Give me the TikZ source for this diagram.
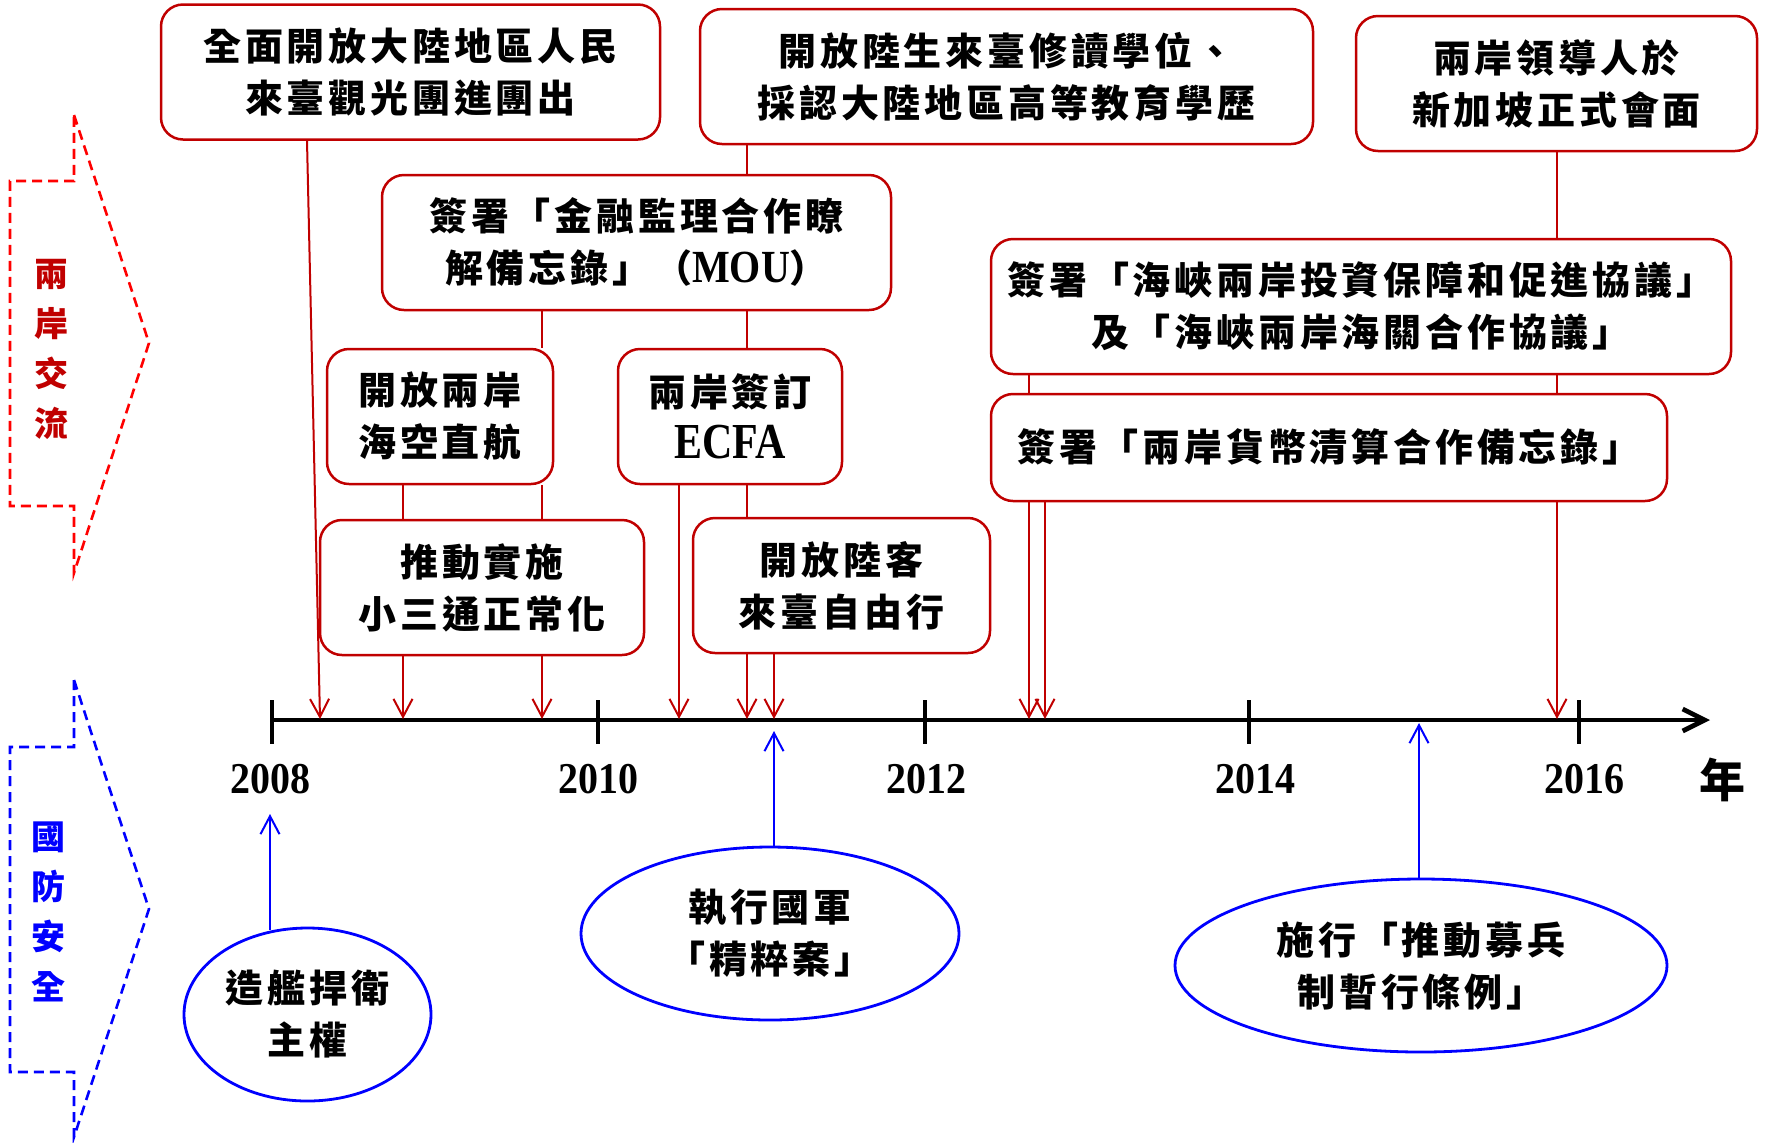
\documentclass[tikz,border=0pt]{standalone}
\usepackage{fontspec}
\setmainfont{Liberation Serif}
\newfontfamily\cjk{Noto Sans CJK TC}[LetterSpace=10]
\newfontfamily\cjkl{Noto Sans CJK TC}
\newfontfamily\latfont{Liberation Serif}
\usetikzlibrary{arrows.meta,shapes.geometric}
\definecolor{dred}{HTML}{C00000}
\definecolor{bred}{HTML}{FF0000}
\definecolor{bblue}{HTML}{0000FF}
\newcommand\lat[1]{{\latfont\bfseries\fontsize{20pt}{26pt}\selectfont #1}}
\begin{document}
\begin{tikzpicture}[x=0.5pt,y=-0.5pt,
  evbox/.style={draw=dred, line width=1.25pt, rounded corners=11pt, fill=white, align=center, inner sep=0pt,
    font=\cjk\bfseries\fontsize{19pt}{26pt}\selectfont},
  evell/.style={draw=bblue, line width=1.4pt, ellipse, align=center, inner sep=0pt,
    font=\cjk\bfseries\fontsize{19pt}{26pt}\selectfont},
  redln/.style={draw=dred, line width=1pt},
  redarr/.style={draw=dred, line width=1pt, -{Straight Barb[length=9pt,width=9.5pt]}},
  bluearr/.style={draw=bblue, line width=1pt, -{Straight Barb[length=9pt,width=9.5pt]}},
  sidearrow/.style={line width=1.3pt, dash pattern=on 5pt off 3pt, line join=miter},
  sidetxt/.style={align=center, inner sep=0pt, font=\cjkl\bfseries\fontsize{17pt}{25pt}\selectfont},
  yearlab/.style={inner sep=0pt, font=\latfont\bfseries\fontsize{20pt}{24pt}\selectfont},
  axisln/.style={draw=black, line width=2.4pt, -{Straight Barb[length=11pt,width=11pt]}},
  tickln/.style={draw=black, line width=2pt}
]
\useasboundingbox (0,0) rectangle (1766,1142);

% side arrows
\draw[bred, sidearrow] (74,115) -- (149,343) -- (74,573) -- (74,506) -- (10,506) -- (10,181) -- (74,181) -- cycle;
\node[sidetxt, text=dred] (lab1) at (51,349) {兩\\岸\\交\\流};
\draw[bblue, sidearrow] (74,680) -- (149,909) -- (74,1137) -- (74,1072) -- (10,1072) -- (10,747) -- (74,747) -- cycle;
\node[sidetxt, text=bblue] (lab2) at (49,912) {國\\防\\安\\全};

% axis
\coordinate (ax0) at (272,720);
\coordinate (ax1) at (1710,720);
\draw[axisln] (ax0) -- (ax1);
\foreach \x in {272,598,924.5,1249,1579} \draw[tickln] (\x,700) -- (\x,744);
\node[yearlab] (y2008) at (270,779) {\scalebox{1}[1.1]{2008}};
\node[yearlab] (y2010) at (598.5,779) {\scalebox{1}[1.1]{2010}};
\node[yearlab] (y2012) at (926,779) {\scalebox{1}[1.1]{2012}};
\node[yearlab] (y2014) at (1255,779) {\scalebox{1}[1.1]{2014}};
\node[yearlab] (y2016) at (1584,779) {\scalebox{1}[1.1]{2016}};
\node[inner sep=0pt, font=\cjkl\bfseries\fontsize{23pt}{26pt}\selectfont] (nian) at (1722,780) {年};

% event boxes
\node[evbox, minimum width=249.5pt, minimum height=67.5pt] (b1) at (410.5,72) {全面開放大陸地區人民\\來臺觀光團進團出};
\node[evbox, minimum width=306.5pt, minimum height=67.5pt] (b2) at (1006.5,76.5) {開放陸生來臺修讀學位、\\採認大陸地區高等教育學歷};
\node[evbox, minimum width=200.5pt, minimum height=67.5pt] (b3) at (1556.5,83.5) {兩岸領導人於\\新加坡正式會面};
\node[evbox, minimum width=254.5pt, minimum height=67.5pt] (b4) at (636.5,242.5) {簽署「金融監理合作瞭\\解備忘錄」（\lat{\scalebox{1}[1.15]{MOU}}）};
\node[evbox, minimum width=113pt, minimum height=67.5pt] (b5) at (440,416.5) {開放兩岸\\海空直航};
\node[evbox, minimum width=112pt, minimum height=67.5pt] (b6) at (730,416.5) {兩岸簽訂\\{\latfont\bfseries\fontsize{21pt}{26pt}\selectfont\scalebox{1}[1.2]{ECFA}}};
\node[evbox, minimum width=162pt, minimum height=67.5pt] (b7) at (482,587.5) {推動實施\\小三通正常化};
\node[evbox, minimum width=148.5pt, minimum height=67.5pt] (b8) at (841.5,585.5) {開放陸客\\來臺自由行};
\node[evbox, minimum width=370pt, minimum height=67.5pt] (b9) at (1361,306.5) {簽署「海峽兩岸投資保障和促進協議」\\及「海峽兩岸海關合作協議」};
\node[evbox, minimum width=338pt, minimum height=53.5pt] (b10) at (1329,447.5) {簽署「兩岸貨幣清算合作備忘錄」};

% defense ellipses
\node[evell, minimum width=123.5pt, minimum height=86.5pt] (e1) at (307.5,1014.5) {造艦捍衛\\主權};
\node[evell, minimum width=189pt, minimum height=86.5pt] (e2) at (770,933.5) {執行國軍\\「精粹案」};
\node[evell, minimum width=246pt, minimum height=86.5pt] (e3) at (1421,965.5) {施行「推動募兵\\制暫行條例」};

% axis points for events
\coordinate (x1) at (307,0);
\coordinate (ev1) at (320,719);
\coordinate (ev2) at (403,719);
\coordinate (ev3) at (542,719);
\coordinate (ev4) at (679,719);
\coordinate (ev5) at (747,719);
\coordinate (ev6) at (774,719);
\coordinate (ev7) at (1029,719);
\coordinate (ev8) at (1045,719);
\coordinate (ev9) at (1557,719);

% red connectors
\draw[redarr] (x1 |- b1.south) -- (ev1);
\draw[redln] (ev5 |- b2.south) -- (ev5 |- b4.north);
\draw[redln] (ev5 |- b4.south) -- (ev5 |- b6.north);
\draw[redln] (ev5 |- b6.south) -- (ev5 |- b8.north);
\draw[redarr] (ev5 |- b8.south) -- (ev5);
\draw[redarr] (ev6 |- b8.south) -- (ev6);
\draw[redarr] (ev4 |- b6.south) -- (ev4);
\draw[redln] (ev3 |- b4.south) -- (ev3 |- b5.north);
\draw[redln] (ev3 |- b5.south) -- (ev3 |- b7.north);
\draw[redarr] (ev3 |- b7.south) -- (ev3);
\draw[redln] (ev2 |- b5.south) -- (ev2 |- b7.north);
\draw[redarr] (ev2 |- b7.south) -- (ev2);
\draw[redln] (ev9 |- b3.south) -- (ev9 |- b9.north);
\draw[redln] (ev9 |- b9.south) -- (ev9 |- b10.north);
\draw[redarr] (ev9 |- b10.south) -- (ev9);
\draw[redln] (ev7 |- b9.south) -- (ev7 |- b10.north);
\draw[redarr] (ev7 |- b10.south) -- (ev7);
\draw[redarr] (ev8 |- b10.south) -- (ev8);

% blue connectors
\coordinate (p1) at (270,814);
\coordinate (p2) at (774,731);
\coordinate (p3) at (1419,723);
\draw[bluearr] (p1 |- e1.north) ++(0,3) -- (p1);
\draw[bluearr] (p2 |- e2.north) -- (p2);
\draw[bluearr] (p3 |- e3.north) -- (p3);
\end{tikzpicture}
\end{document}
